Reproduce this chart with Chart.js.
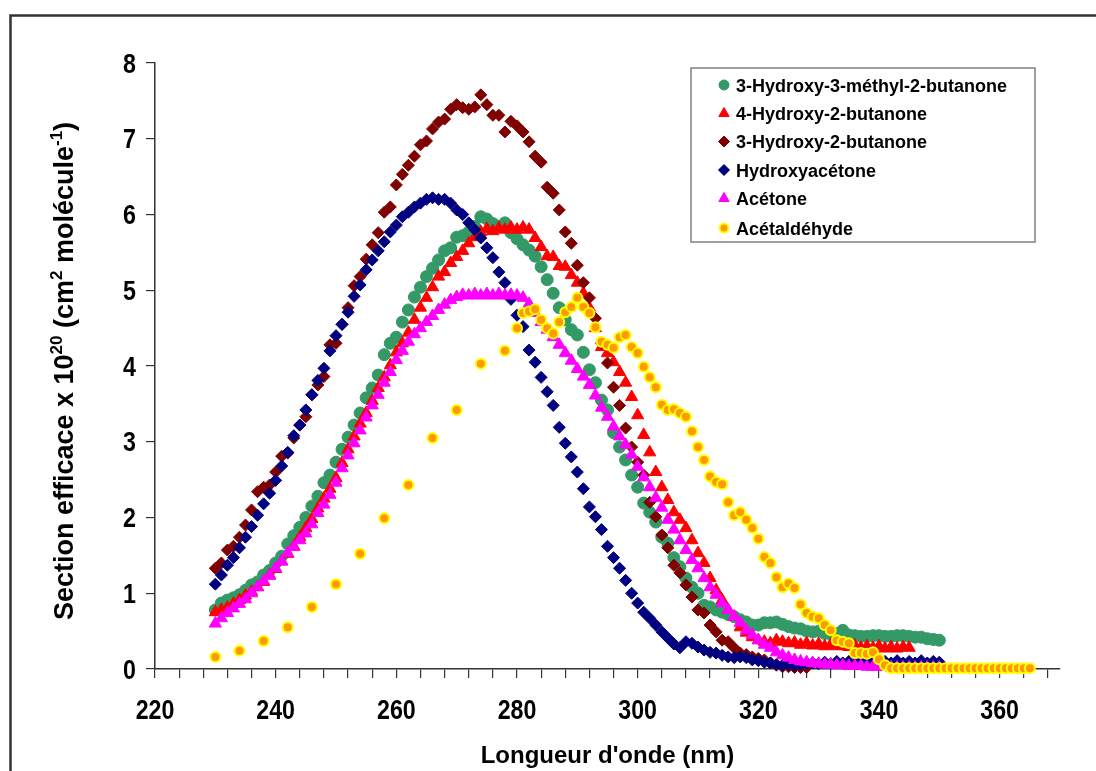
<!DOCTYPE html>
<html>
<head>
<meta charset="utf-8">
<title>Section efficace d'absorption</title>
<script src="https://cdn.jsdelivr.net/npm/chart.js@4.4.1/dist/chart.umd.min.js"></script>
<style>
  html, body { margin: 0; padding: 0; background: #ffffff; }
  canvas { display: block; }
</style>
</head>
<body>
<canvas id="chart" width="1096" height="771"></canvas>
<script>
// Wavelengths (nm) shared by the series measured every nanometre
const wavelengths = [
  230,231,232,233,234,235,236,237,238,239,240,241,242,243,244,245,246,247,248,249,
  250,251,252,253,254,255,256,257,258,259,260,261,262,263,264,265,266,267,268,269,
  270,271,272,273,274,275,276,277,278,279,280,281,282,283,284,285,286,287,288,289,
  290,291,292,293,294,295,296,297,298,299,300,301,302,303,304,305,306,307,308,309,
  310,311,312,313,314,315,316,317,318,319,320,321,322,323,324,325,326,327,328,329,
  330,331,332,333,334,335,336,337,338,339,340,341,342,343,344,345,346,347,348,349,350
];

// Acetaldehyde wavelengths (nm): coarse below 280 nm, then every nanometre
const wavelengthsAcetaldehyde = [
  230,234,238,242,246,250,254,258,262,266,270,274,278,
  280,281,282,283,284,285,286,287,288,289,290,291,292,293,294,295,296,297,298,299,
  300,301,302,303,304,305,306,307,308,309,310,311,312,313,314,315,316,317,318,319,
  320,321,322,323,324,325,326,327,328,329,330,331,332,333,334,335,336,337,338,339,
  340,341,342,343,344,345,346,347,348,349,350,351,352,353,354,355,356,357,358,359,
  360,361,362,363,364,365
];

// Cross sections (x 1e-20 cm2 molecule-1)
const hydroxyMethylButanone = [
  0.78,0.87,0.91,0.94,0.98,1.04,1.11,1.15,1.24,1.30,
  1.40,1.49,1.65,1.76,1.87,2.00,2.15,2.28,2.46,2.56,
  2.73,2.90,3.06,3.22,3.38,3.58,3.71,3.88,4.15,4.30,
  4.38,4.58,4.74,4.91,5.04,5.18,5.29,5.40,5.52,5.56,
  5.70,5.72,5.77,5.84,5.97,5.94,5.88,5.84,5.89,5.76,
  5.68,5.60,5.53,5.45,5.31,5.14,4.96,4.77,4.61,4.48,
  4.41,4.18,3.95,3.78,3.55,3.42,3.12,2.93,2.76,2.56,
  2.40,2.19,2.07,1.94,1.74,1.66,1.47,1.35,1.20,1.08,
  1.00,0.84,0.82,0.78,0.75,0.72,0.69,0.65,0.62,0.58,
  0.58,0.61,0.61,0.62,0.59,0.56,0.54,0.53,0.50,0.49,
  0.50,0.47,0.46,0.47,0.51,0.45,0.44,0.43,0.43,0.44,
  0.44,0.43,0.43,0.44,0.44,0.43,0.42,0.42,0.40,0.39,0.38
];

const hydroxyButanone4 = [
  0.75,0.78,0.81,0.86,0.91,0.97,1.02,1.08,1.15,1.24,
  1.32,1.42,1.52,1.62,1.74,1.86,1.98,2.12,2.25,2.38,
  2.52,2.72,2.90,3.07,3.24,3.38,3.54,3.71,3.85,4.01,
  4.18,4.30,4.44,4.61,4.77,4.90,5.04,5.18,5.24,5.36,
  5.44,5.52,5.62,5.70,5.77,5.81,5.78,5.82,5.80,5.83,
  5.80,5.83,5.80,5.69,5.57,5.45,5.44,5.32,5.31,5.20,
  5.10,4.96,4.77,4.50,4.25,4.17,4.05,3.92,3.78,3.59,
  3.35,3.09,2.86,2.60,2.40,2.23,2.07,1.97,1.86,1.70,
  1.53,1.40,1.20,1.04,0.91,0.78,0.69,0.55,0.48,0.42,
  0.38,0.36,0.34,0.38,0.36,0.34,0.35,0.32,0.34,0.31,
  0.33,0.30,0.32,0.30,0.31,0.29,0.31,0.28,0.30,0.28,
  0.30,0.27,0.29,0.27,0.29,0.28
];

const hydroxyButanone3 = [
  1.33,1.40,1.57,1.62,1.74,1.90,2.10,2.34,2.40,2.43,
  2.60,2.81,2.85,3.05,3.22,3.33,3.62,3.75,3.86,4.28,
  4.30,4.55,4.77,5.06,5.18,5.41,5.60,5.76,6.03,6.10,
  6.39,6.53,6.65,6.77,6.92,6.97,7.13,7.22,7.26,7.39,
  7.45,7.41,7.39,7.42,7.58,7.45,7.31,7.31,7.09,7.23,
  7.17,7.09,6.96,6.77,6.69,6.36,6.28,6.06,5.77,5.62,
  5.33,5.10,4.90,4.63,4.30,4.04,3.72,3.48,3.18,2.93,
  2.73,2.56,2.20,2.01,1.77,1.60,1.37,1.27,1.11,0.95,
  0.78,0.74,0.58,0.49,0.38,0.36,0.28,0.21,0.19,0.16,
  0.14,0.12,0.08,0.05,0.03,0.03,0.02,0.02,0.02
];

const hydroxyacetone = [
  1.12,1.24,1.37,1.47,1.60,1.74,1.88,2.03,2.18,2.32,
  2.49,2.68,2.86,3.08,3.22,3.42,3.62,3.81,3.97,4.20,
  4.40,4.55,4.71,4.92,5.07,5.27,5.40,5.52,5.64,5.77,
  5.86,5.97,6.03,6.10,6.15,6.20,6.22,6.20,6.20,6.15,
  6.06,6.00,5.89,5.80,5.69,5.56,5.43,5.24,5.10,4.88,
  4.67,4.52,4.21,4.05,3.85,3.66,3.48,3.19,2.98,2.80,
  2.60,2.38,2.14,2.01,1.84,1.62,1.47,1.33,1.17,1.00,
  0.87,0.75,0.67,0.58,0.49,0.41,0.33,0.28,0.36,0.34,
  0.29,0.25,0.22,0.21,0.18,0.16,0.15,0.16,0.15,0.12,
  0.11,0.09,0.08,0.06,0.05,0.06,0.05,0.06,0.07,0.08,
  0.07,0.09,0.07,0.10,0.08,0.10,0.07,0.10,0.08,0.11,
  0.08,0.10,0.08,0.11,0.08,0.10,0.08,0.11,0.08,0.10,0.09
];

const acetone = [
  0.60,0.67,0.74,0.80,0.86,0.92,1.00,1.08,1.16,1.23,
  1.33,1.42,1.53,1.61,1.70,1.79,1.91,2.06,2.17,2.30,
  2.46,2.65,2.82,2.98,3.15,3.32,3.48,3.62,3.78,3.92,
  4.08,4.20,4.32,4.42,4.50,4.58,4.66,4.74,4.81,4.87,
  4.91,4.94,4.93,4.95,4.93,4.95,4.93,4.95,4.93,4.94,
  4.93,4.90,4.82,4.70,4.58,4.48,4.38,4.28,4.17,4.07,
  3.96,3.86,3.75,3.61,3.45,3.33,3.20,3.07,2.96,2.83,
  2.67,2.53,2.40,2.26,2.13,1.97,1.84,1.70,1.57,1.44,
  1.33,1.20,1.08,0.98,0.87,0.78,0.69,0.61,0.51,0.45,
  0.38,0.32,0.28,0.22,0.18,0.15,0.12,0.10,0.09,0.08,
  0.07,0.06,0.06,0.05,0.05,0.04,0.04,0.04,0.03,0.03,
  0.03,0.03,0.02,0.02,0.02,0.02,0.02,0.02,0.02,0.02,0.02
];

const acetaldehyde = [
  0.16,0.24,0.37,0.55,0.82,1.12,1.52,1.99,2.43,3.05,3.42,4.03,4.20,
  4.50,4.70,4.72,4.75,4.61,4.50,4.43,4.58,4.71,4.78,4.90,4.78,4.70,4.51,4.32,4.28,4.24,4.38,4.41,4.25,
  4.17,3.99,3.85,3.72,3.49,3.42,3.43,3.38,3.33,3.14,2.93,2.76,2.54,2.47,2.44,2.20,2.03,2.07,1.97,1.86,
  1.72,1.48,1.40,1.21,1.08,1.13,1.07,0.85,0.74,0.69,0.67,0.58,0.51,0.38,0.36,0.34,0.21,0.21,0.20,0.22,
  0.13,0.05,0.01,0.01,0.01,0.01,0.01,0.01,0.01,0.01,0.01,0.01,0.01,0.01,0.01,0.01,0.01,0.01,0.01,0.01,
  0.01,0.01,0.01,0.01,0.01,0.01
];

const seriesNames = [
  '3-Hydroxy-3-méthyl-2-butanone',
  '4-Hydroxy-2-butanone',
  '3-Hydroxy-2-butanone',
  'Hydroxyacétone',
  'Acétone',
  'Acétaldéhyde'
];

const xTitle = "Longueur d'onde (nm)";
// Y title pieces; sup marks superscript runs
const yTitleParts = [
  { t: 'Section efficace x 10', sup: false },
  { t: '20', sup: true },
  { t: ' (cm', sup: false },
  { t: '2', sup: true },
  { t: ' molécule', sup: false },
  { t: '-1', sup: true },
  { t: ')', sup: false }
];

const FONT = '"Liberation Sans", Arial, Helvetica, sans-serif';

// Marker look for each series, in legend order
const markerStyles = [
  { pointStyle: 'circle',   radius: 6,   fill: '#339966', stroke: '#339966', borderWidth: 1, legendRadius: 5 },
  { pointStyle: 'triangle', radius: 7,   fill: '#ff0000', stroke: '#ff0000', borderWidth: 1, legendRadius: 6 },
  { pointStyle: 'rectRot',  radius: 6,   fill: '#800000', stroke: '#800000', borderWidth: 1, legendRadius: 5.5 },
  { pointStyle: 'rectRot',  radius: 6,   fill: '#000080', stroke: '#000080', borderWidth: 1, legendRadius: 5.5 },
  { pointStyle: 'triangle', radius: 7,   fill: '#ff00ff', stroke: '#ff00ff', borderWidth: 1, legendRadius: 6 },
  { pointStyle: 'circle',   radius: 5,   fill: '#ff9900', stroke: '#ffff00', borderWidth: 2, legendRadius: 4.5 }
];

const seriesValues = [hydroxyMethylButanone, hydroxyButanone4, hydroxyButanone3, hydroxyacetone, acetone, acetaldehyde];
const seriesWavelengths = [wavelengths, wavelengths, wavelengths, wavelengths, wavelengths, wavelengthsAcetaldehyde];

const datasets = seriesNames.map((name, i) => {
  const vals = seriesValues[i];
  const wl = seriesWavelengths[i];
  const st = markerStyles[i];
  return {
    label: name,
    data: vals.map((v, k) => ({ x: wl[k], y: v })),
    showLine: false,
    pointStyle: st.pointStyle,
    pointRadius: st.radius,
    pointBackgroundColor: st.fill,
    pointBorderColor: st.stroke,
    pointBorderWidth: st.borderWidth,
    pointHoverRadius: st.radius,
    clip: false,
    order: seriesNames.length - i
  };
});

function drawMarker(ctx, st, x, y, r) {
  ctx.save();
  ctx.fillStyle = st.fill;
  ctx.strokeStyle = st.stroke;
  ctx.lineWidth = st.borderWidth;
  if (Chart.helpers && Chart.helpers.drawPoint) {
    Chart.helpers.drawPoint(ctx, { pointStyle: st.pointStyle, rotation: 0, radius: r, borderWidth: st.borderWidth }, x, y);
  } else {
    ctx.beginPath();
    ctx.arc(x, y, r, 0, Math.PI * 2);
    ctx.fill();
    ctx.stroke();
  }
  ctx.restore();
}

function drawScaledText(ctx, text, x, y, align, font, sx) {
  ctx.save();
  ctx.font = font;
  ctx.textBaseline = 'alphabetic';
  ctx.translate(x, y);
  ctx.scale(sx, 1);
  ctx.textAlign = align;
  ctx.fillText(text, 0, 0);
  ctx.restore();
}

const decorations = {
  id: 'decorations',
  beforeDraw(chart) {
    const ctx = chart.ctx;
    ctx.save();
    ctx.fillStyle = '#ffffff';
    ctx.fillRect(0, 0, chart.width, chart.height);
    // outer frame
    ctx.strokeStyle = '#333333';
    ctx.lineWidth = 2.5;
    ctx.beginPath();
    ctx.moveTo(chart.width + 2, 15.5);
    ctx.lineTo(10.5, 15.5);
    ctx.lineTo(10.5, chart.height + 2);
    ctx.stroke();
    ctx.restore();
  },
  afterDraw(chart) {
    const ctx = chart.ctx;
    const xs = chart.scales.x;
    const ys = chart.scales.y;
    const tickFont = 'bold 27px ' + FONT;
    ctx.save();
    ctx.fillStyle = '#000000';

    // y tick labels
    ys.ticks.forEach(t => {
      const py = ys.getPixelForValue(t.value);
      drawScaledText(ctx, String(t.value), 136, py + 9.5, 'right', tickFont, 0.86);
    });
    // x tick labels every 20 nm
    xs.ticks.forEach(t => {
      if (t.value % 20 !== 0) return;
      const px = xs.getPixelForValue(t.value);
      drawScaledText(ctx, String(t.value), px, 719, 'center', tickFont, 0.86);
    });

    // x title
    ctx.font = 'bold 24px ' + FONT;
    ctx.textAlign = 'center';
    ctx.textBaseline = 'alphabetic';
    ctx.fillText(xTitle, (xs.left + xs.right) / 2 + 0, 763);

    // y title with superscripts
    const mainSize = 27, supSize = 17, rise = 11;
    ctx.save();
    ctx.translate(73, 371);
    ctx.rotate(-Math.PI / 2);
    ctx.textAlign = 'left';
    let total = 0;
    yTitleParts.forEach(p => {
      ctx.font = 'bold ' + (p.sup ? supSize : mainSize) + 'px ' + FONT;
      p.w = ctx.measureText(p.t).width;
      total += p.w;
    });
    let cx = -total / 2;
    yTitleParts.forEach(p => {
      ctx.font = 'bold ' + (p.sup ? supSize : mainSize) + 'px ' + FONT;
      ctx.fillText(p.t, cx, p.sup ? -rise : 0);
      cx += p.w;
    });
    ctx.restore();

    // legend box
    const lx = 691, ly = 68, lw = 344, lh = 174;
    ctx.fillStyle = '#ffffff';
    ctx.fillRect(lx, ly, lw, lh);
    ctx.strokeStyle = '#808080';
    ctx.lineWidth = 1.5;
    ctx.strokeRect(lx, ly, lw, lh);
    const rowY = [85, 113.5, 141.5, 170, 198.5, 228];
    seriesNames.forEach((name, i) => {
      const st = markerStyles[i];
      drawMarker(ctx, st, 724, rowY[i], st.legendRadius);
      ctx.fillStyle = '#000000';
      ctx.font = 'bold 18px ' + FONT;
      ctx.textAlign = 'left';
      ctx.textBaseline = 'alphabetic';
      ctx.fillText(name, 736, rowY[i] + 6.5);
    });
    ctx.restore();
  }
};

const axisColor = '#333333';

new Chart(document.getElementById('chart'), {
  type: 'scatter',
  data: { datasets },
  options: {
    responsive: false,
    animation: false,
    events: [],
    layout: { padding: { left: 0, top: 63, right: 36, bottom: 0 } },
    plugins: {
      legend: { display: false },
      tooltip: { enabled: false }
    },
    scales: {
      x: {
        type: 'linear',
        position: 'bottom',
        min: 220,
        max: 370,
        ticks: { display: false, stepSize: 4, includeBounds: false, autoSkip: false },
        grid: { display: true, drawOnChartArea: false, drawTicks: true, tickLength: 9, color: axisColor, lineWidth: 1.2 },
        border: { display: true, color: axisColor, width: 1.5 },
        afterFit(scale) { scale.height = 102; }
      },
      y: {
        type: 'linear',
        position: 'left',
        min: 0,
        max: 8,
        ticks: { display: false, stepSize: 1 },
        grid: { display: true, drawOnChartArea: false, drawTicks: true, tickLength: 9, color: axisColor, lineWidth: 1.2 },
        border: { display: true, color: axisColor, width: 1.5 },
        afterFit(scale) { scale.width = 155; }
      }
    }
  },
  plugins: [decorations]
});
</script>
</body>
</html>
